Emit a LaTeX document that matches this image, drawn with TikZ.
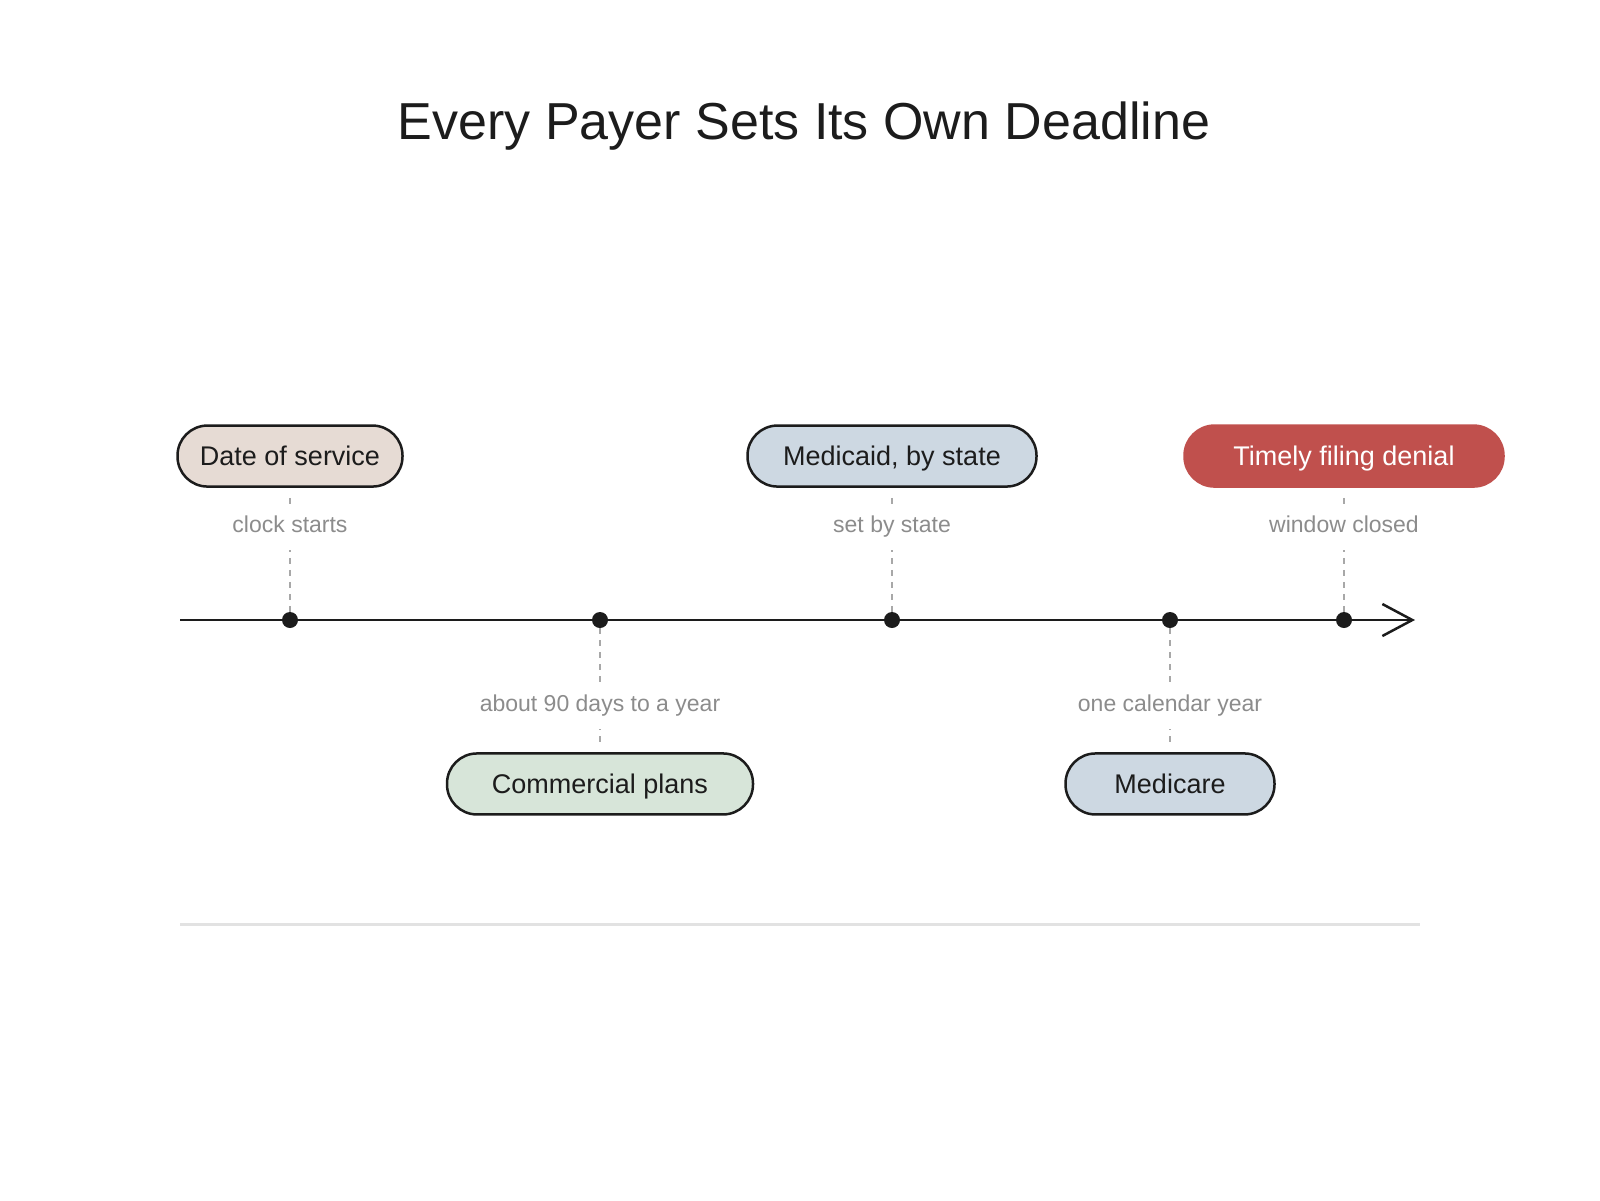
\documentclass[tikz,border=0pt]{standalone}
\usepackage{fontspec}
\setmainfont{Liberation Sans}
\usetikzlibrary{arrows.meta}
\usetikzlibrary{positioning}
\definecolor{ink}{HTML}{1C1C1C}
\definecolor{muted}{HTML}{8C8C8C}
\definecolor{guidegray}{HTML}{A8A8A8}
\definecolor{rulegray}{HTML}{E2E2E2}
\definecolor{sand}{HTML}{E6DBD4}
\definecolor{slate}{HTML}{CDD8E2}
\definecolor{sage}{HTML}{D7E5D9}
\definecolor{brick}{HTML}{C0504D}

\begin{document}
\begin{tikzpicture}[x=1pt, y=-1pt,
    pill/.style={rounded corners=30pt, draw=ink, line width=2.5pt, text=ink,
                 minimum height=61pt, inner xsep=20pt, text height=24pt, text depth=5pt,
                 font=\fontsize{27}{32}\selectfont},
    note/.style={fill=white, text=muted, inner xsep=4pt, inner ysep=12pt,
                 text height=16pt, text depth=5pt,
                 font=\fontsize{23}{27}\selectfont},
    dot/.style={circle, fill=ink, inner sep=0pt, minimum size=16pt},
    guide/.style={draw=guidegray, line width=2pt, dash pattern=on 6pt off 6pt},
    node distance=124pt]
    \useasboundingbox (0,0) rectangle (1600,1200);

    \node[text=ink, anchor=base, font=\fontsize{52}{58}\selectfont] (title) at (804,139) {Every Payer Sets Its Own Deadline};

    % timeline
    \coordinate (start) at (180,620);
    \coordinate (end) at (1415,620);
    \draw[ink, line width=2pt, -{Straight Barb[length=30pt, width=32pt, line width=2.5pt]}] (start) -- (end);

    \node[dot] (d1) at (290,620) {};
    \node[dot] (d2) at (600,620) {};
    \node[dot] (d3) at (892,620) {};
    \node[dot] (d4) at (1170,620) {};
    \node[dot] (d5) at (1344,620) {};

    % milestones
    \node[pill, fill=sand, minimum width=225pt, above=of d1] (dos) {Date of service};
    \node[pill, fill=sage, minimum width=306pt, below=of d2] (com) {Commercial plans};
    \node[pill, fill=slate, minimum width=289pt, above=of d3] (mcd) {Medicaid, by state};
    \node[pill, fill=slate, minimum width=209pt, below=of d4] (mcr) {Medicare};
    \node[pill, fill=brick, draw=brick, text=white, minimum width=319pt, above=of d5] (tfd) {Timely filing denial};

    \draw[guide] ([yshift=-10pt]dos.south) -- (d1);
    \draw[guide] ([yshift=-10pt]mcd.south) -- (d3);
    \draw[guide] ([yshift=-10pt]tfd.south) -- (d5);
    \draw[guide] (d2) -- ([yshift=8pt]com.north);
    \draw[guide] (d4) -- ([yshift=8pt]mcr.north);

    \node[note] (n1) at (290,527) {clock starts};
    \node[note] (n3) at (892,527) {set by state};
    \node[note] (n5) at (1344,527) {window closed};
    \node[note] (n2) at (600,706) {about 90 days to a year};
    \node[note] (n4) at (1170,706) {one calendar year};

    \coordinate (ruleL) at (180,924);
    \coordinate (ruleR) at (1420,924);
    \draw[rulegray, line width=3pt] (ruleL) -- (ruleR);
\end{tikzpicture}
\end{document}
